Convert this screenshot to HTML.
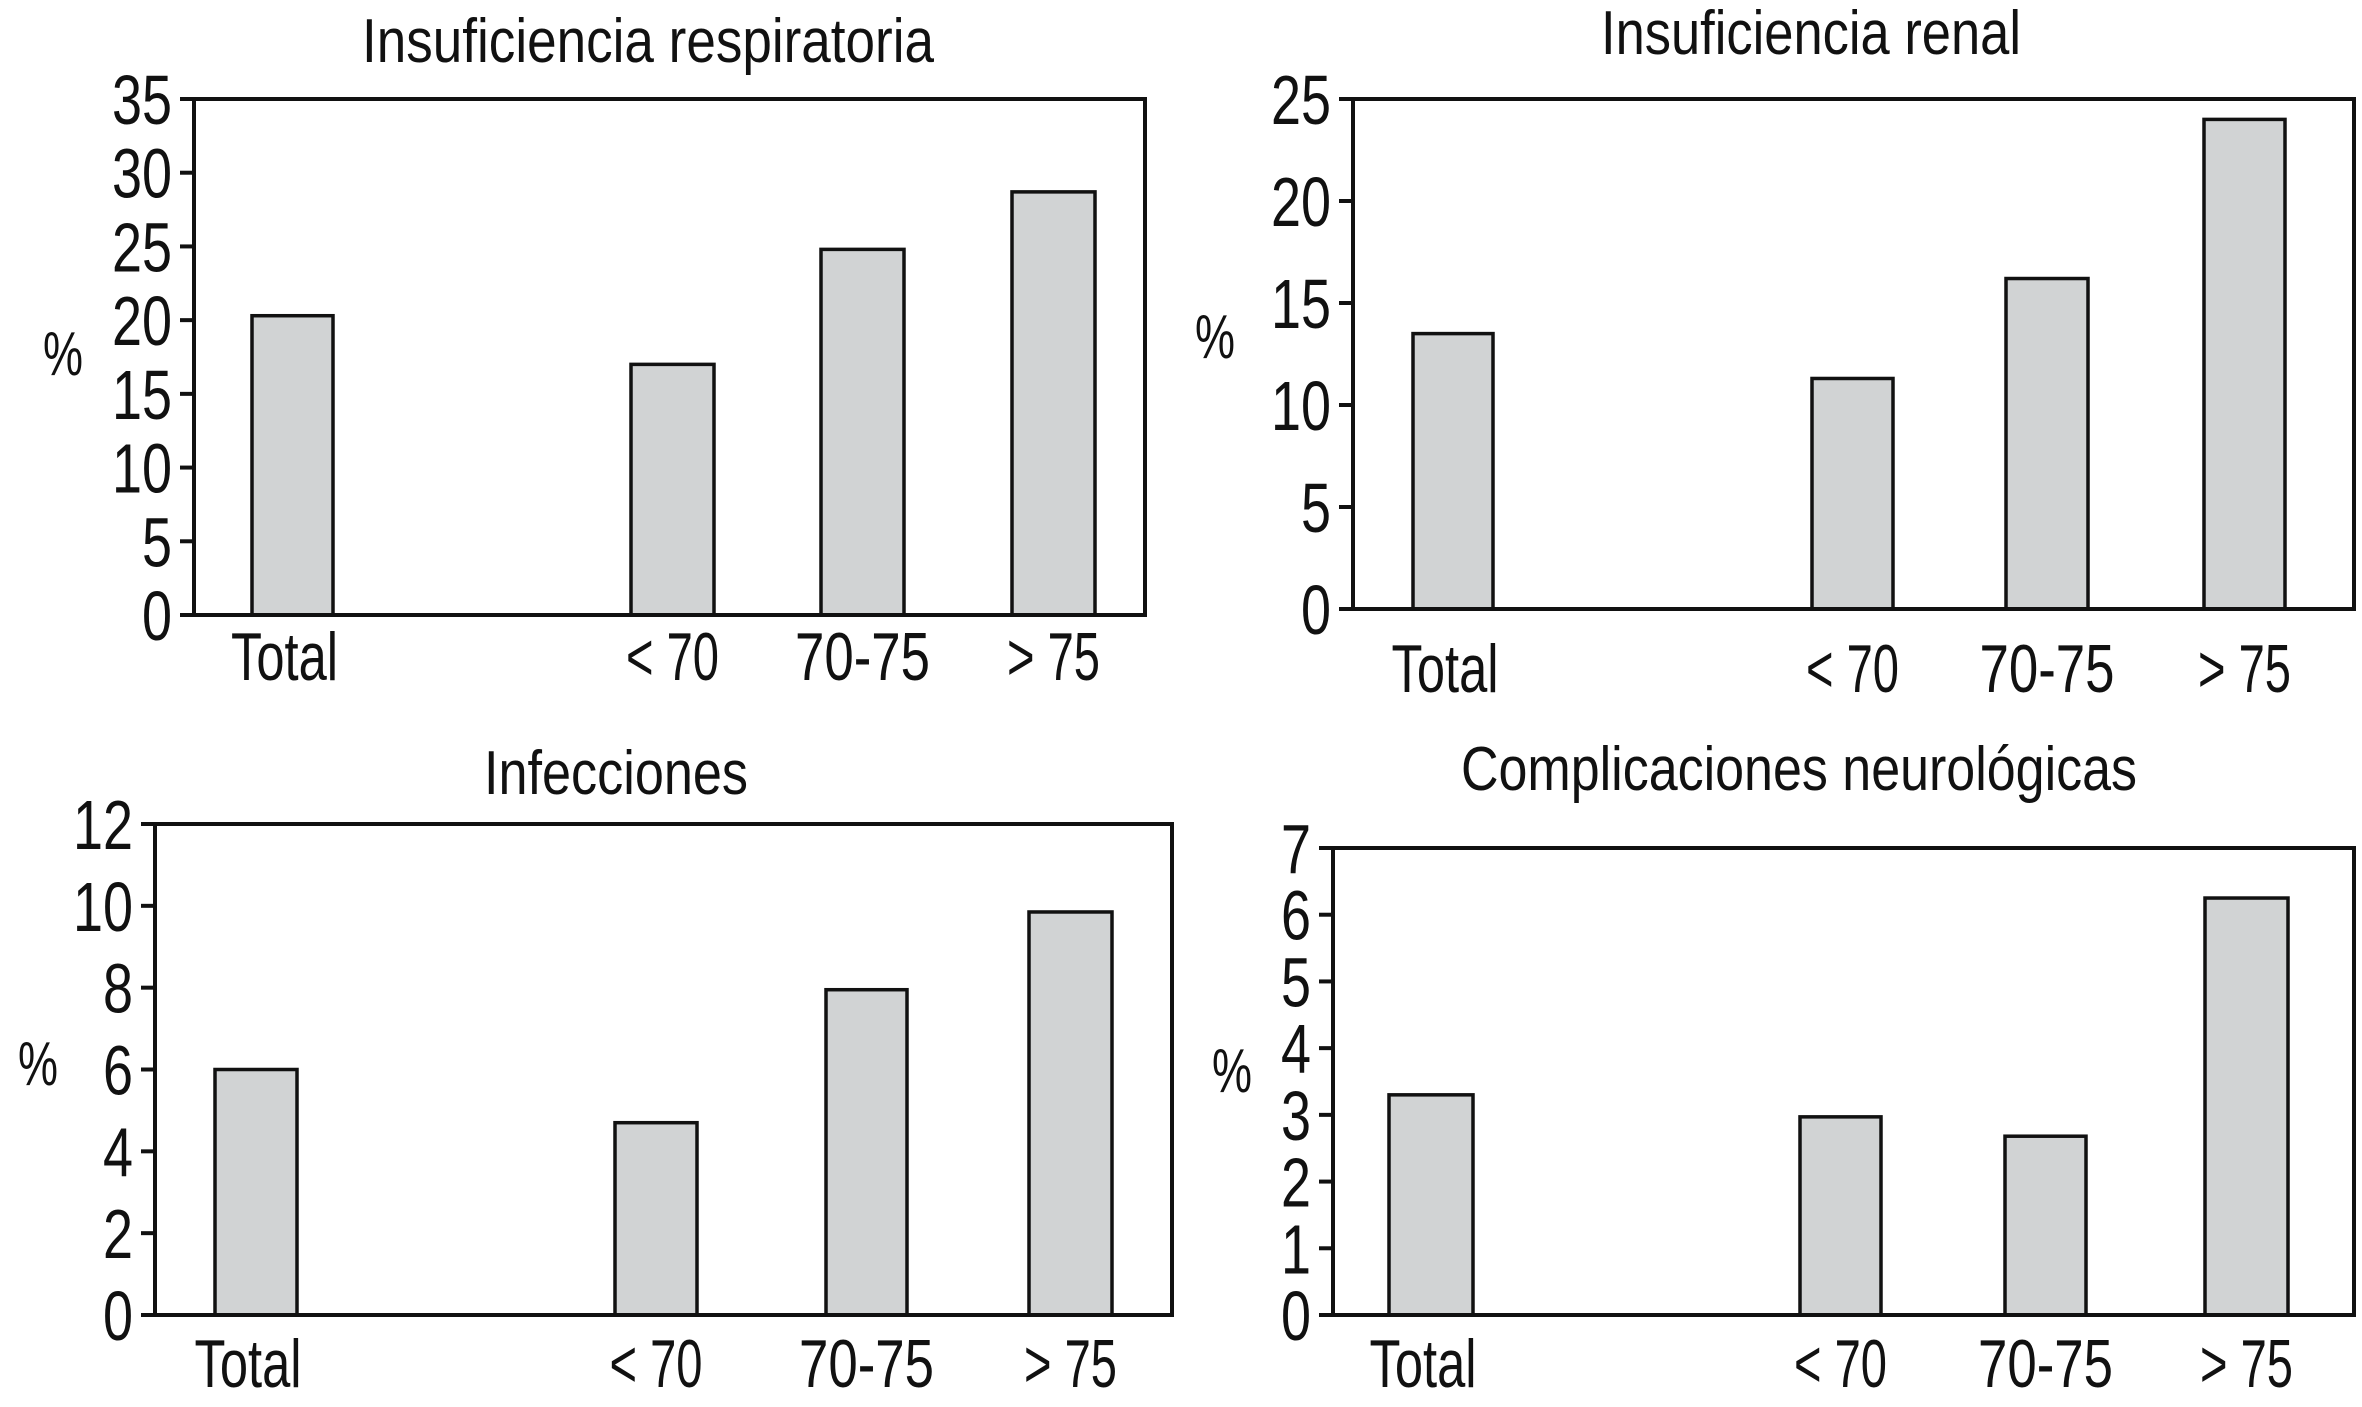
<!DOCTYPE html>
<html><head><meta charset="utf-8"><style>
html,body{margin:0;padding:0;background:#fff;}
svg{display:block;}
text{font-family:"Liberation Sans Narrow","Liberation Sans",sans-serif;fill:#111;}
</style></head><body>
<svg id="chart" width="2362" height="1407" viewBox="0 0 2362 1407" xmlns="http://www.w3.org/2000/svg"></svg>
<script>
const categories = ["Total", "< 70", "70-75", "> 75"];
const titles = ["Insuficiencia respiratoria", "Insuficiencia renal", "Infecciones", "Complicaciones neurológicas"];
const respValues = [20.3, 17, 24.8, 28.7];
const renalValues = [13.5, 11.3, 16.2, 24];
const infValues = [6, 4.7, 7.95, 9.85];
const neuroValues = [3.3, 2.97, 2.68, 6.25];
const respTicks = [0, 5, 10, 15, 20, 25, 30, 35];
const renalTicks = [0, 5, 10, 15, 20, 25];
const infTicks = [0, 2, 4, 6, 8, 10, 12];
const neuroTicks = [0, 1, 2, 3, 4, 5, 6, 7];

const panels = [
  {name:"respiratory", values:respValues, ticks:respTicks, title:titles[0], L:194, R:1145, T:99, B:615,
   bars:[[252,333],[631,714],[821,904],[1012,1095]], titleX:648, titleY:62, titleW:572, pctX:63, pctY:375, labY:680},
  {name:"renal", values:renalValues, ticks:renalTicks, title:titles[1], L:1353, R:2354, T:99, B:609,
   bars:[[1413,1493],[1812,1893],[2006,2088],[2204,2285]], titleX:1811, titleY:54, titleW:420, pctX:1215, pctY:358, labY:692},
  {name:"infections", values:infValues, ticks:infTicks, title:titles[2], L:155, R:1172, T:824, B:1315,
   bars:[[215,297],[615,697],[826,907],[1029,1112]], titleX:616, titleY:794, titleW:264, pctX:38, pctY:1085, labY:1387},
  {name:"neuro", values:neuroValues, ticks:neuroTicks, title:titles[3], L:1333, R:2354, T:848, B:1315,
   bars:[[1389,1473],[1800,1881],[2005,2086],[2205,2288]], titleX:1799, titleY:790, titleW:676, pctX:1232, pctY:1092, labY:1387}
];

const svg = document.getElementById('chart');
const NS = "http://www.w3.org/2000/svg";
function mk(tag, attrs, parent){
  const e = document.createElementNS(NS, tag);
  for (const k in attrs) e.setAttribute(k, attrs[k]);
  parent.appendChild(e);
  return e;
}
function narrowLen(s){
  let w = 0;
  for (const c of s) w += (c === ' ') ? 12 : (c === 'l') ? 10 : (c === 't') ? 16 : 27;
  return w;
}

panels.forEach(p => {
  const g = mk('g', {}, svg);
  
  
  const max = p.ticks[p.ticks.length - 1];
  const y = v => p.B - (v / max) * (p.B - p.T);

  const t = mk('text', {x:p.titleX, y:p.titleY, 'text-anchor':'middle', 'font-size':62, textLength:p.titleW, lengthAdjust:'spacingAndGlyphs'}, g);
  t.textContent = p.title;
  
  

  const pc = mk('text', {x:p.pctX, y:p.pctY, 'text-anchor':'middle', 'font-size':62, textLength:40, lengthAdjust:'spacingAndGlyphs'}, g);
  pc.textContent = '%';
  
  

  p.values.forEach((v, i) => {
    const [x0, x1] = p.bars[i];
    const r = mk('rect', {x:x0, y:y(v), width:x1 - x0, height:p.B - y(v), fill:'#d1d3d4', stroke:'#111', 'stroke-width':3.5}, g);
    
    
    const lb = mk('text', {x:(x0 + x1) / 2 + (i === 0 ? -8 : 0), y:p.labY, 'text-anchor':'middle', 'font-size':68, textLength:narrowLen(categories[i]), lengthAdjust:'spacingAndGlyphs'}, g);
    lb.textContent = categories[i];
    
    
  });

  const box = mk('rect', {x:p.L, y:p.T, width:p.R - p.L, height:p.B - p.T, fill:'none', stroke:'#111', 'stroke-width':4}, g);
  
  

  p.ticks.forEach(tv => {
    const ty = y(tv);
    const tk = mk('line', {x1:p.L - 14, x2:p.L, y1:ty, y2:ty, stroke:'#111', 'stroke-width':4}, g);
    
    
    const s = String(tv);
    const tl = mk('text', {x:p.L - 22, y:ty + 25, 'text-anchor':'end', 'font-size':70, textLength:s.length * 30, lengthAdjust:'spacingAndGlyphs'}, g);
    tl.textContent = s;
    
    
  });
});
</script>
</body></html>
